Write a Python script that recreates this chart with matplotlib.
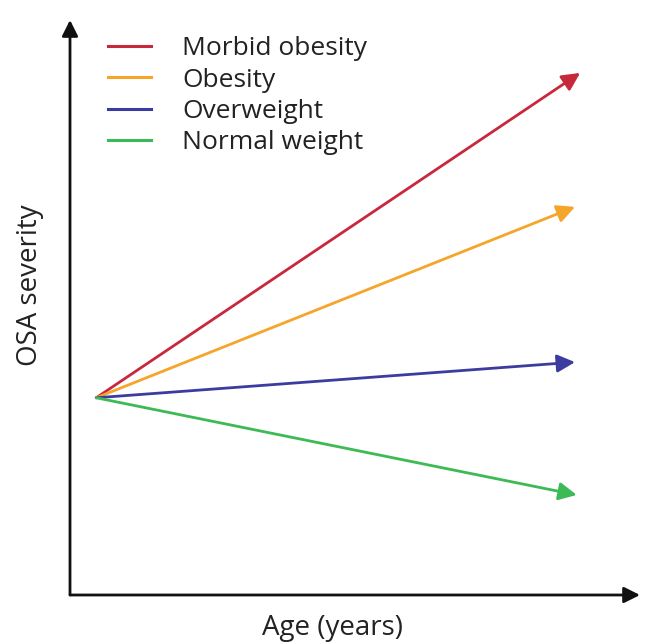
import matplotlib.pyplot as plt

plt.rcParams['font.family'] = ['Open Sans', 'DejaVu Sans']

# groups and their trajectories (start -> end), arbitrary units
groups = ['Morbid obesity', 'Obesity', 'Overweight', 'Normal weight']
colors = ['#c8283c', '#f5a52a', '#3c3ca0', '#3dba55']
x_start = [0.46, 0.46, 0.46, 0.46]
y_start = [3.43, 3.43, 3.43, 3.43]
x_end = [8.95, 8.86, 8.86, 8.89]
y_end = [9.08, 6.75, 4.05, 1.74]

fig = plt.figure(figsize=(6.49, 6.42), dpi=100)
ax = fig.add_axes([70/649, 47/642, 570/649, 575/642])
ax.set_xlim(0, 10)
ax.set_ylim(0, 10)
ax.axis('off')

# axes with arrowheads
ax.annotate('', xy=(1, 0), xytext=(0, 0), xycoords='axes fraction',
            arrowprops=dict(arrowstyle='-|>', color='#111111', lw=2, mutation_scale=24,
                            shrinkA=0, shrinkB=0))
ax.annotate('', xy=(0, 1), xytext=(0, 0), xycoords='axes fraction',
            arrowprops=dict(arrowstyle='-|>', color='#111111', lw=2, mutation_scale=24,
                            shrinkA=0, shrinkB=0))

for g, c, x0, y0, x1, y1 in zip(groups, colors, x_start, y_start, x_end, y_end):
    ax.annotate('', xy=(x1, y1), xytext=(x0, y0),
                arrowprops=dict(arrowstyle='-|>', color=c, lw=2, mutation_scale=27,
                                shrinkA=0, shrinkB=0))
    ax.plot([], [], color=c, lw=2.2, label=g)

ax.legend(loc='upper left', bbox_to_anchor=(0.049, 0.99), frameon=False,
          fontsize=19, handlelength=1.6, handletextpad=1.2, labelspacing=0.24,
          borderaxespad=0, labelcolor='#222222')

fig.text(333/649, 1 - 628/642, 'Age (years)', ha='center', va='center',
         fontsize=20, color='#222222')
fig.text(30/649, 1 - 285/642, 'OSA severity', ha='center', va='center',
         rotation=90, fontsize=20, color='#222222')

fig.savefig('out.png', dpi=100)
